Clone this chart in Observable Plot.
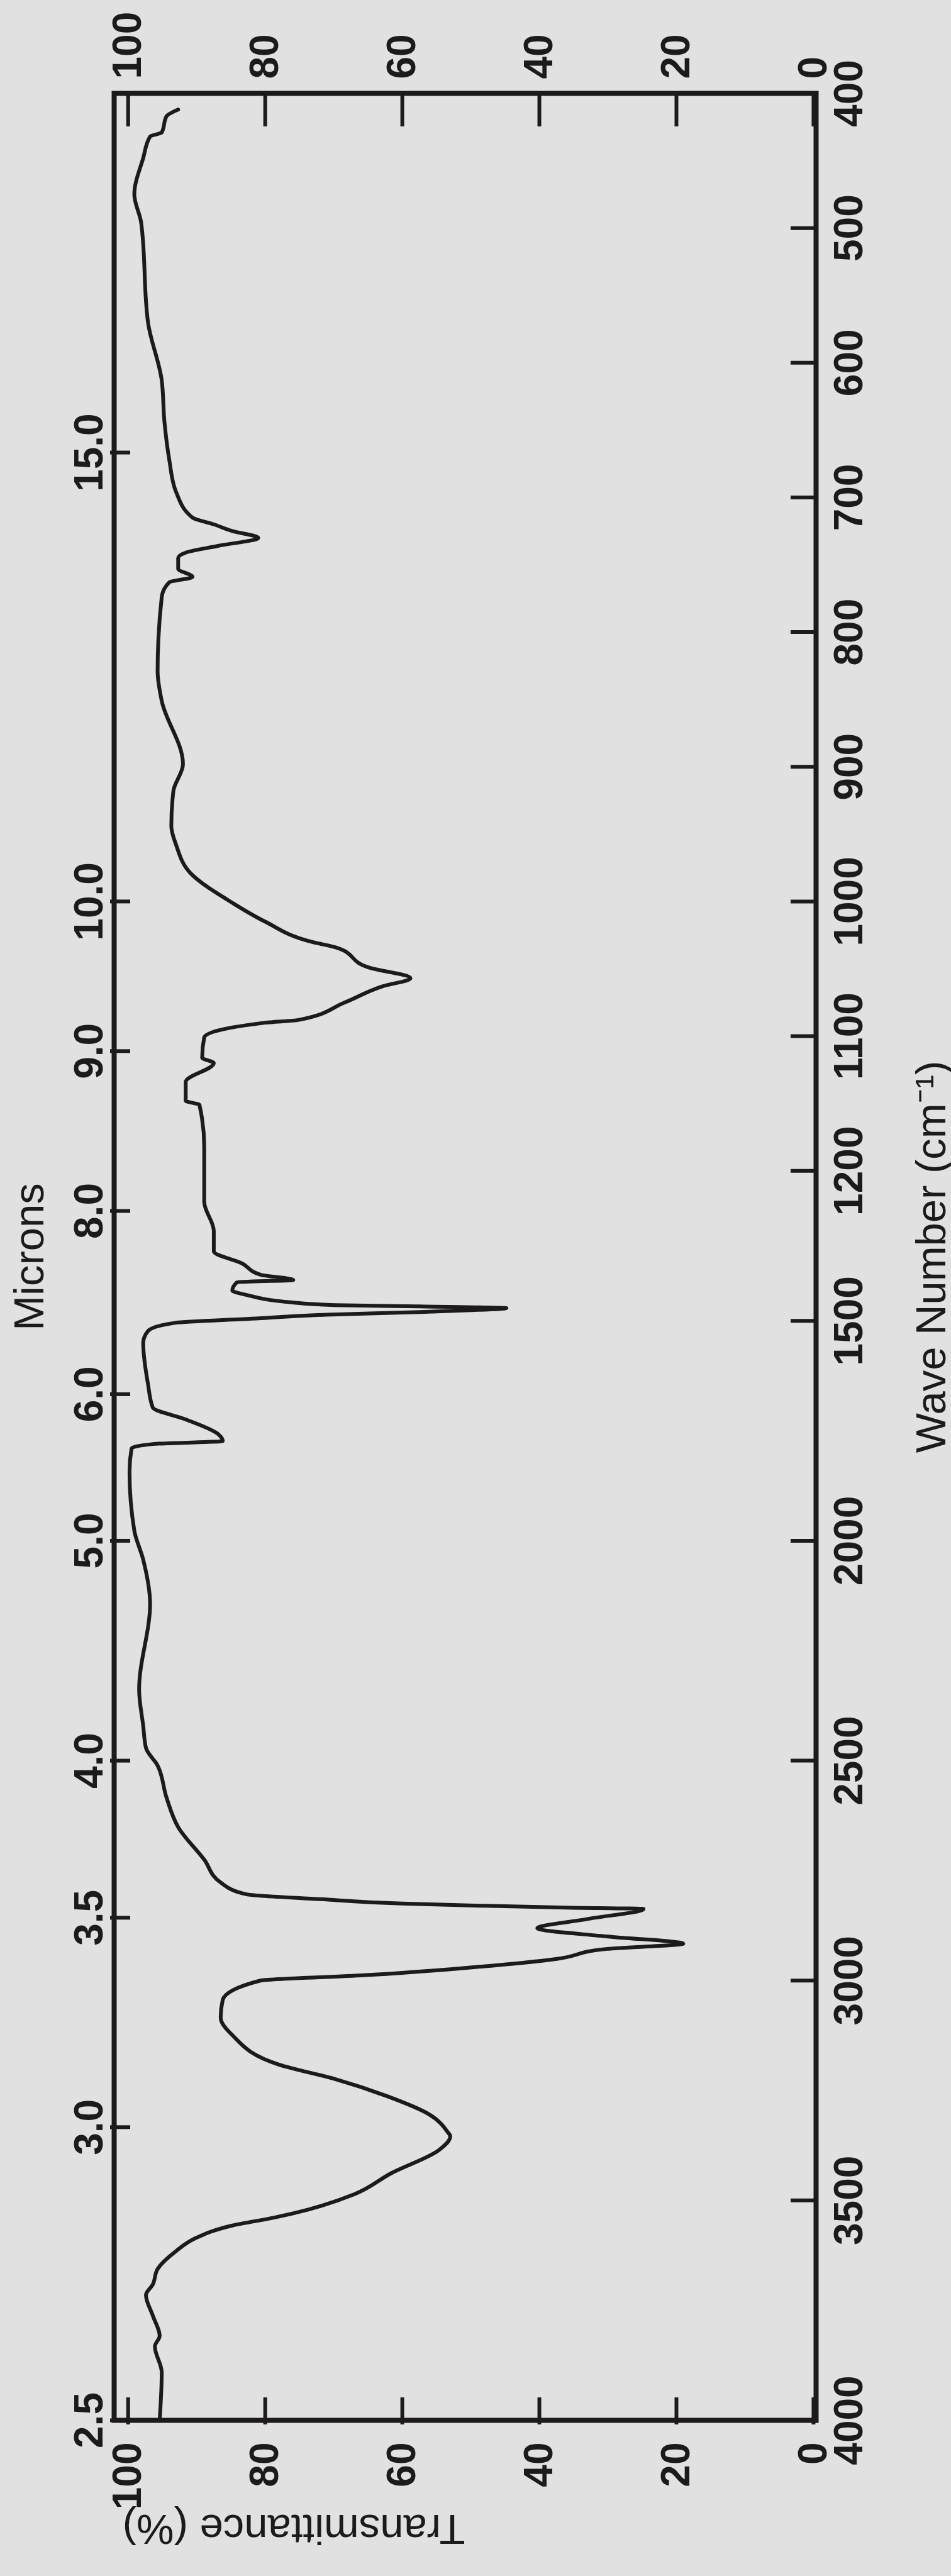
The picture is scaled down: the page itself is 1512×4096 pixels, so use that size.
<!DOCTYPE html>
<html><head><meta charset="utf-8">
<script src="https://cdn.jsdelivr.net/npm/d3@7"></script>
<script src="https://cdn.jsdelivr.net/npm/@observablehq/plot@0.6"></script>
<style>
html,body{margin:0;padding:0;background:#e1e1e1;width:1512px;height:4096px;overflow:hidden;}
#wrap{position:absolute;left:0;top:0;width:4096px;height:1512px;transform-origin:0 0;transform:translate(0px,4096px) rotate(-90deg);}
</style></head><body><div id="wrap"></div>
<script>
// ---- data (wave number in cm-1, transmittance in %) ----
const wavenumbers = [412,417,429,432,448,475,496,570,613,644,672,696,715,720,725,730,736,741,745,753,759,763,774,829,851,898,918,944,958,979,1001,1015,1030,1034,1049,1057,1063,1075,1088,1090,1101,1116,1120,1134,1148,1151,1182,1229,1296,1342,1369,1395,1407,1412,1431,1441,1458,1464,1467,1471,1476,1480,1486,1495,1504,1523,1550,1644,1697,1724,1757,1773,1780,1790,1843,1977,2043,2143,2338,2421,2471,2511,2584,2651,2725,2777,2804,2815,2825,2830,2834,2837,2860,2881,2900,2916,2928,2951,2971,2988,3000,3044,3084,3124,3191,3224,3263,3304,3344,3354,3386,3438,3486,3521,3539,3557,3586,3615,3656,3691,3715,3762,3808,3832,3891,4000];
const transmittance = [92.7,94.4,95.1,96.8,97.8,99.1,98.1,97.1,95.1,94.7,94.0,93.0,90.6,87.5,84.8,81.0,86.9,91.6,92.7,92.7,90.6,94.0,95.1,95.7,95.1,92.0,93.4,93.7,93.0,90.9,84.8,80.0,73.2,69.8,64.9,58.8,62.9,68.4,75.2,80.0,88.9,89.2,87.5,91.6,91.6,89.6,88.9,88.9,87.5,87.5,83.4,80.7,75.9,84.1,84.8,82.7,76.0,69.8,57.4,44.8,50.6,57.4,71.1,82.0,93.0,97.1,97.8,97.1,96.4,91.6,86.9,86.2,96.4,99.5,99.8,99.1,97.8,96.8,98.4,97.8,97.4,95.7,94.4,92.7,88.9,86.5,82.7,72.0,60.0,48.0,36.0,24.8,33.0,40.3,30.0,19.0,30.1,37.6,50.6,65.6,80.7,86.2,86.5,84.8,78.0,69.8,62.2,56.1,53.4,53.0,54.7,61.6,67.0,73.8,78.7,84.8,90.2,93.0,95.7,96.4,97.4,96.4,95.4,96.1,95.1,95.4];

// tick values
const waveTicks = [400,500,600,700,800,900,1000,1100,1200,1500,2000,2500,3000,3500,4000];
const micronTicks = [2.5,3.0,3.5,4.0,5.0,6.0,8.0,9.0,10.0,15.0];
const transTicks = [0,20,40,60,80,100];

// chart-paper scale: expanded below the break, compressed above it
const waveDomain = [4000, 1220, 400];
const breakFraction = 0.5254;
const transDomain = [-0.375, 102.04];

const table = wavenumbers.map((w, i) => ({w, t: transmittance[i]}));

// ---- layout (chart drawn upright, then turned a quarter turn) ----
const W = 4096, H = 1512;
const mL = 247, mR = 149, mT = 181, mB = 215;
const frameW = W - mL - mR, frameH = H - mT - mB;
const ink = "#1c1a1b";
const tickFont = "'Liberation Sans Narrow', 'Liberation Sans', Arial, sans-serif";
const titleFont = "'Liberation Sans', Arial, sans-serif";
const tickSize = 64, titleSize = 67;
const tickText = {fontSize: tickSize, fontFamily: tickFont, fontWeight: "bold", label: null, fill: ink};

const chart = Plot.plot({
  width: W, height: H,
  marginLeft: mL, marginRight: mR, marginTop: mT, marginBottom: mB,
  style: {background: "transparent", overflow: "visible", maxWidth: "none", color: ink, fontFamily: titleFont},
  x: {type: "linear", domain: waveDomain, range: [mL, mL + breakFraction * frameW, W - mR], axis: null, label: null},
  y: {domain: transDomain, axis: null, label: null},
  marks: [
    // tick marks
    Plot.tickX(micronTicks.map(m => 1e4 / m), {x: d => d, insetTop: -6, insetBottom: frameH - 26, stroke: ink, strokeWidth: 6}),
    Plot.tickX(waveTicks, {x: d => d, insetTop: frameH - 40, stroke: ink, strokeWidth: 6}),
    Plot.tickY(transTicks, {y: d => d, insetLeft: -6, insetRight: frameW - 37, stroke: ink, strokeWidth: 6}),
    Plot.tickY(transTicks, {y: d => d, insetLeft: frameW - 52, stroke: ink, strokeWidth: 6}),
    // tick labels
    Plot.axisX(waveTicks, {anchor: "bottom", tickSize: 0, tickPadding: 28, tickFormat: d => String(d), ...tickText}),
    Plot.axisX(micronTicks.map(m => 1e4 / m), {anchor: "top", tickSize: 0, tickPadding: 19, tickFormat: w => (1e4 / w).toFixed(1), ...tickText}),
    Plot.axisY(transTicks, {anchor: "left", tickSize: 0, tickPadding: 35, tickFormat: d => String(d), ...tickText}),
    Plot.axisY(transTicks, {anchor: "right", tickSize: 0, tickPadding: 23, tickFormat: d => String(d), ...tickText}),
    // axis titles
    Plot.text(["Microns"], {frameAnchor: "top", dy: -113, lineAnchor: "bottom", fontSize: titleSize, fill: ink}),
    Plot.text(["Wave Number (cm\u207B\u00B9)"], {frameAnchor: "bottom", dy: 205, lineAnchor: "bottom", fontSize: titleSize, fill: ink}),
    Plot.text(["Transmittance (%)"], {frameAnchor: "left", dx: -150, rotate: -90, lineAnchor: "bottom", fontSize: titleSize, fill: ink}),
    // frame and spectrum
    Plot.frame({stroke: ink, strokeWidth: 8}),
    Plot.line(table, {x: "w", y: "t", stroke: ink, strokeWidth: 6, strokeLinejoin: "round", strokeLinecap: "round", curve: "monotone-x"})
  ]
});
document.getElementById("wrap").appendChild(chart);
</script></body></html>
